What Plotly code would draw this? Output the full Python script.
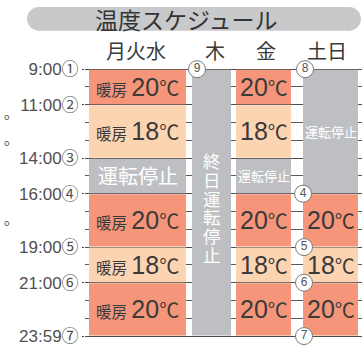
import plotly.graph_objects as go

# ---------------- data ----------------
columns = ["月火水", "木", "金", "土日"]

seg_column = [0, 0, 0, 0, 0, 0, 1, 2, 2, 2, 2, 2, 2, 3, 3, 3, 3]
seg_start = [9, 11, 14, 16, 19, 21, 9, 9, 11, 14, 16, 19, 21, 9, 16, 19, 21]
seg_end = [11, 14, 16, 19, 21, 24, 24, 11, 14, 16, 19, 21, 24, 16, 19, 21, 24]
seg_temp = [20, 18, None, 20, 18, 20, None, 20, 18, None, 20, 18, 20, None, 20, 18, 20]

stop_label = "運転停止"
allday_stop_label = "終日運転停止"
heat_prefix = "暖房"

tick_hours = [9, 11, 14, 16, 19, 21, 24]
tick_labels = ["9:00①", "11:00②", "14:00③", "16:00④", "19:00⑤", "21:00⑥", "23:59⑦"]
minor_hours = [10, 12, 13, 15, 17, 18, 20, 22, 23]

event_nums = ["9", "8", "4", "5", "6", "7"]
event_hours = [9, 9, 16, 19, 21, 24]

title = "温度スケジュール"

# ---------------- layout / style ----------------
W, H = 362, 346
PL = 85                      # plot left in px
PX_PER_H = 18
Y0 = 9 - 70 / PX_PER_H       # hour at pixel y=0


def hour(py):
    return Y0 + py / PX_PER_H


def xp(px):
    return (px - PL) / (W - PL)


def yp(py):
    return 1 - py / H


col_left = [89, 192, 236, 303]
col_right = [186, 231, 291, 358]
col_center = [(a + b) / 2 for a, b in zip(col_left, col_right)]
col_width = [b - a for a, b in zip(col_left, col_right)]
header_x = [136, 215, 266, 327]
event_x = [197, 305, 303, 304, 304, 304]

C20 = "#F5967A"
C18 = "#FDD4B2"
CSTOP = "#BEBFC3"
TXT = "#3A3A3A"
FONT = "Noto Sans CJK JP"
NUMFONT = "Liberation Sans, Arimo, Noto Sans CJK JP"
GAP = 0.5 / PX_PER_H  # half-pixel inset so the hour lines show between segments

fig = go.Figure()

groups = [("20", C20), ("18", C18), ("stop", CSTOP)]
for key, color in groups:
    xs, bases, lens, ws = [], [], [], []
    for c, s, e, t in zip(seg_column, seg_start, seg_end, seg_temp):
        k = "stop" if t is None else str(t)
        if k != key:
            continue
        xs.append(col_center[c])
        ws.append(col_width[c])
        bases.append(s + GAP)
        lens.append(e - s - 2 * GAP)
    fig.add_trace(go.Bar(
        x=xs, y=lens, base=bases, width=ws,
        marker=dict(color=color, line=dict(width=0)),
        hoverinfo="skip", showlegend=False,
    ))

# event markers (circled numbers)
fig.add_trace(go.Scatter(
    x=event_x, y=event_hours, mode="markers+text",
    text=event_nums, textposition="middle center",
    textfont=dict(family=NUMFONT, size=12, color="#555"),
    marker=dict(size=17, color="white", line=dict(color="#7a7a7a", width=1)),
    cliponaxis=False, hoverinfo="skip", showlegend=False,
))

ann = []


def A(**kw):
    kw.setdefault("xanchor", "center")
    kw.setdefault("yanchor", "middle")
    kw.setdefault("showarrow", False)
    ann.append(kw)


# segment labels
for c, s, e, t in zip(seg_column, seg_start, seg_end, seg_temp):
    mid = (s + e) / 2
    if t is None:
        if c == 1:
            n = len(allday_stop_label)
            for i, ch in enumerate(allday_stop_label):
                A(x=col_center[c], y=mid + (i - (n - 1) / 2) * 19 / PX_PER_H + 5 / PX_PER_H,
                  xref="x", yref="y", text=ch,
                  font=dict(family=FONT, size=17.5, color="white"))
        else:
            size = 20 if c == 0 else 13
            A(x=col_center[c], y=mid, xref="x", yref="y", text=stop_label,
              font=dict(family=FONT, size=size, color="white"))
    else:
        deg = '<span style="font-size:20px">℃</span>'
        if c == 0:
            txt = f'<span style="font-size:15.5px">{heat_prefix} </span>{t}{deg}'
        else:
            txt = f"{t}{deg}"
        A(x=col_center[c], y=mid, xref="x", yref="y", text=txt,
          font=dict(family=NUMFONT, size=25, color=TXT))

# headers
for name, hx in zip(columns, header_x):
    A(x=hx, y=yp(51), xref="x", yref="paper", text=name,
      font=dict(family=FONT, size=20, color=TXT))

# title
A(x=xp(186), y=yp(19), xref="paper", yref="paper", text=title,
  font=dict(family=FONT, size=23, color="#333"))

# stray marks at left edge
for py in [118, 145, 226]:
    A(x=xp(7), y=yp(py), xref="paper", yref="paper", text="o",
      font=dict(family="DejaVu Sans", size=9, color="#555"))

shapes = [
    dict(type="rect", xref="paper", yref="paper", x0=xp(39), x1=xp(349), y0=yp(31), y1=yp(7),
         fillcolor="#C8C9CB", line=dict(width=0), layer="below"),
    dict(type="circle", xref="paper", yref="paper", x0=xp(27), x1=xp(51), y0=yp(31), y1=yp(7),
         fillcolor="#C8C9CB", line=dict(width=0), layer="below"),
    dict(type="circle", xref="paper", yref="paper", x0=xp(337), x1=xp(361), y0=yp(31), y1=yp(7),
         fillcolor="#C8C9CB", line=dict(width=0), layer="below"),
]

fig.update_layout(
    width=W, height=H,
    margin=dict(l=PL, r=0, t=0, b=0),
    paper_bgcolor="white", plot_bgcolor="white",
    barmode="overlay",
    annotations=ann, shapes=shapes,
    xaxis=dict(range=[PL, W], visible=False, fixedrange=True),
    yaxis=dict(
        range=[hour(H), hour(0)],
        tickmode="array", tickvals=tick_hours, ticktext=tick_labels,
        tickfont=dict(family=NUMFONT, size=17, color="#505050"),
        ticklabeloverflow="allow",
        ticks="outside", ticklen=2, tickcolor="#505050",
        showgrid=True, gridcolor="#4d4d4d", gridwidth=1.2,
        zeroline=False, showline=False,
        minor=dict(tickmode="array", tickvals=minor_hours, showgrid=True,
                   gridcolor="#5a5a5a", gridwidth=1, ticks=""),
        fixedrange=True,
    ),
    font=dict(family=FONT),
)

fig.write_html("out.html", config={"displayModeBar": False},
               post_script="document.body.style.margin='0';document.body.style.overflow='hidden';")
